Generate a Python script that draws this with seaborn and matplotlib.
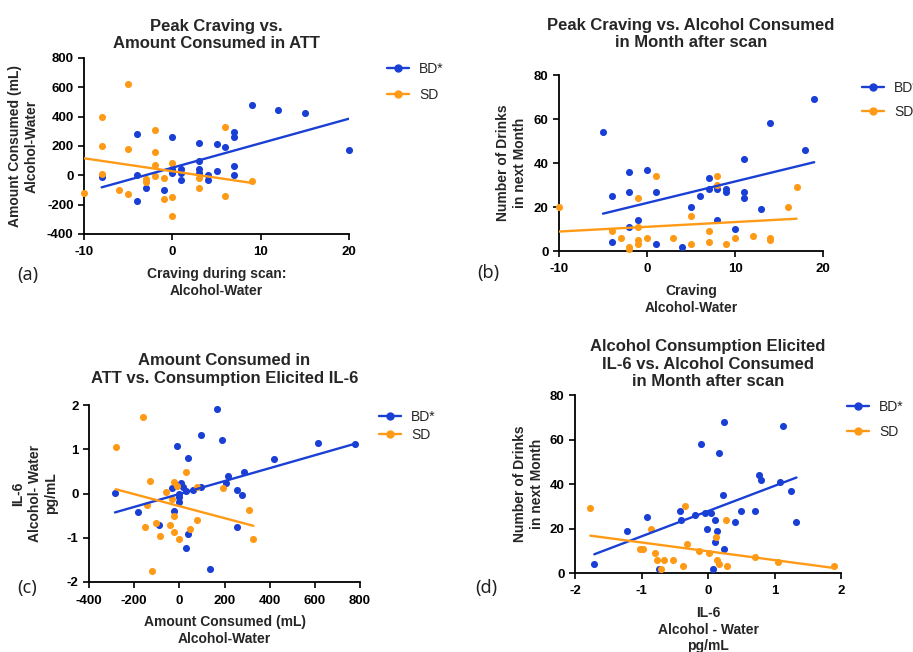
import matplotlib
matplotlib.use("Agg")
import matplotlib.pyplot as plt
import seaborn as sns
from matplotlib.lines import Line2D

# ---------------- data ----------------
# (a) Peak craving vs amount consumed in ATT
a_bd_x = [-8, -4, -4, -4, -3, -1, 0, 0, 0, 0, 1, 1, 1, 3, 3, 3, 3, 4, 4, 5, 5, 6, 7, 7, 7, 7, 9, 12, 15, 20]
a_bd_y = [-10, 280, 0, -178, -89, -100, 264, 43, 25, 16, 43, 16, -30, 222, 98, 43, 16, 2, -30, 214, 32, 193, 293, 264, 61, 2, 482, 443, 423, 173]
a_sd_x = [-10, -8, -8, -8, -6, -5, -5, -5, -3, -3, -2, -2, -2, -2, -1, -1, 0, 0, 0, 3, 3, 6, 6, 9]
a_sd_y = [-118, 398, 198, 7, -100, 625, 182, -127, -25, -48, 311, 161, 73, -7, -18, -159, 82, -150, -280, -18, -84, 332, -139, -39]

# (b) Peak craving vs alcohol consumed in month after scan
b_bd_x = [-5, -4, -4, -2, -2, -2, -1, 0, 1, 1, 4, 5, 6, 7, 7, 8, 8, 9, 9, 10, 11, 11, 11, 13, 14, 18, 19]
b_bd_y = [54, 25, 4, 36, 27, 11, 14, 37, 27, 3, 2, 20, 25, 33, 28, 28, 14, 28, 27, 10, 42, 27, 24, 19, 58, 46, 69]
b_sd_x = [-10, -4, -3, -2, -2, -1, -1, -1, -1, 0, 1, 3, 5, 5, 7, 7, 8, 8, 9, 10, 12, 14, 14, 16, 17]
b_sd_y = [20, 9, 6, 2, 1, 24, 11, 5, 3, 6, 34, 6, 16, 3, 9, 4, 34, 30, 3, 6, 7, 6, 5, 20, 29]

# (c) Amount consumed in ATT vs consumption elicited IL-6
c_bd_x = [-285, -182, -92, -31, -22, -12, -3, -3, -3, 7, 18, 28, 28, 37, 37, 59, 97, 97, 136, 168, 187, 207, 217, 257, 257, 277, 288, 419, 615, 779]
c_bd_y = [0.02, -0.41, -0.71, 0.12, -0.40, 1.08, 0.0, -0.09, -0.19, 0.23, 0.14, 0.05, -1.24, 0.80, -0.92, 0.07, 1.33, 0.14, -1.71, 1.91, 1.22, 0.23, 0.39, 0.08, -0.75, -0.03, 0.49, 0.77, 1.15, 1.12]
c_sd_x = [-282, -161, -142, -152, -131, -102, -87, -121, -60, -41, -31, -22, -22, -22, -12, -1, 28, 47, 78, 78, 193, 308, 328]
c_sd_y = [1.06, 1.74, -0.26, -0.76, 0.28, -0.66, -0.97, -1.76, 0.03, -0.71, -0.13, 0.27, -0.51, -0.86, 0.18, -1.02, 0.49, -0.80, 0.15, -0.60, 0.12, -0.37, -1.03]

# (d) Consumption elicited IL-6 vs alcohol consumed in month after scan
d_bd_x = [-1.71, -1.22, -0.91, -0.42, -0.41, -0.19, -0.11, -0.04, -0.01, 0.05, 0.07, 0.10, 0.11, 0.14, 0.16, 0.23, 0.24, 0.24, 0.40, 0.49, 0.71, 0.77, 0.80, 1.09, 1.13, 1.25, 1.33, -0.74]
d_bd_y = [4, 19, 25, 28, 24, 26, 58, 27, 20, 27, 2, 24, 14, 19, 54, 35, 68, 11, 23, 28, 28, 44, 42, 41, 66, 37, 23, 2]
d_sd_x = [-1.77, -1.03, -0.97, -0.86, -0.79, -0.76, -0.71, -0.66, -0.53, -0.37, -0.34, -0.31, -0.13, 0.02, 0.12, 0.14, 0.17, 0.27, 0.28, 0.70, 1.06, 1.90]
d_sd_y = [29, 11, 11, 20, 9, 6, 2, 6, 6, 3, 30, 13, 10, 9, 16, 6, 4, 24, 3, 7, 5, 3]

group_labels = ["BD*", "SD"]

a_xticks = [-10, 0, 10, 20]
a_yticks = [-400, -200, 0, 200, 400, 600, 800]
b_xticks = [-10, 0, 10, 20]
b_yticks = [0, 20, 40, 60, 80]
c_xticks = [-400, -200, 0, 200, 400, 600, 800]
c_yticks = [-2, -1, 0, 1, 2]
d_xticks = [-2, -1, 0, 1, 2]
d_yticks = [0, 20, 40, 60, 80]

# ---------------- style ----------------
sns.set_style("ticks")
plt.rcParams['font.family'] = ['Liberation Sans', 'DejaVu Sans']
plt.rcParams['axes.unicode_minus'] = False

BLUE = '#1a3fd4'
ORANGE = '#ff9a16'
W, H = 913, 652

fig = plt.figure(figsize=(W / 100, H / 100), dpi=100)


def rect(x0, y0, x1, y1):
    return [x0 / W, 1 - y1 / H, (x1 - x0) / W, (y1 - y0) / H]


def panel(r, bx, by, sx, sy, xticks, yticks, title, tpad, xlabel, xpad, ylabel, ypad,
          leg_xy, leg_spacing):
    ax = fig.add_axes(r)
    for x, y, c in ((bx, by, BLUE), (sx, sy, ORANGE)):
        sns.regplot(x=x, y=y, ax=ax, ci=None, color=c, truncate=True,
                    scatter_kws=dict(s=26, linewidths=0, alpha=1, clip_on=False, zorder=3),
                    line_kws=dict(lw=1.7, zorder=4))
    ax.set_xlim(xticks[0], xticks[-1])
    ax.set_ylim(yticks[0], yticks[-1])
    ax.set_xticks(xticks)
    ax.set_yticks(yticks)
    ax.set_xticklabels([str(v) for v in xticks], fontweight='bold')
    ax.set_yticklabels([str(v) for v in yticks], fontweight='bold')
    ax.tick_params(axis='both', direction='out', length=4, width=1.2, labelsize=9.5,
                   color='black', labelcolor='black')
    ax.tick_params(axis='x', pad=5)
    ax.tick_params(axis='y', pad=3.5)
    for s in ('left', 'bottom'):
        ax.spines[s].set_linewidth(1.3)
        ax.spines[s].set_color('black')
    sns.despine(ax=ax)
    ax.set_title(title, fontsize=12, fontweight='bold', pad=tpad, linespacing=1.2)
    ax.set_xlabel(xlabel, fontsize=10, fontweight='bold', labelpad=xpad, linespacing=1.25)
    ax.set_ylabel(ylabel, fontsize=10, fontweight='bold', labelpad=ypad, linespacing=1.25)
    handles = [Line2D([], [], color=c, lw=1.7, marker='o', markersize=5)
               for c in (BLUE, ORANGE)]
    ax.legend(handles, group_labels, loc='upper left', bbox_to_anchor=leg_xy,
              frameon=False, borderpad=0, borderaxespad=0, handlelength=1.6,
              handletextpad=0.7, labelspacing=leg_spacing,
              prop=dict(size=10, weight='normal'))
    return ax


panel(rect(84, 58, 349, 234), a_bd_x, a_bd_y, a_sd_x, a_sd_y, a_xticks, a_yticks,
      "Peak Craving vs.\nAmount Consumed in ATT", 7,
      "Craving during scan:\nAlcohol-Water", 6,
      "Amount Consumed (mL)\nAlcohol-Water", 6, (1.143, 0.977), 0.86)

panel(rect(559, 75, 823, 251), b_bd_x, b_bd_y, b_sd_x, b_sd_y, b_xticks, b_yticks,
      "Peak Craving vs. Alcohol Consumed\nin Month after scan", 20,
      "Craving\nAlcohol-Water", 6,
      "Number of Drinks\nin next Month", 5, (1.148, 0.966), 0.72)

panel(rect(89, 405, 360, 582), c_bd_x, c_bd_y, c_sd_x, c_sd_y, c_xticks, c_yticks,
      "Amount Consumed in\nATT vs. Consumption Elicited IL-6", 16,
      "Amount Consumed (mL)\nAlcohol-Water", 6,
      "IL-6\nAlcohol- Water\npg/mL", 6, (1.07, 0.972), 0.3)

panel(rect(575, 395, 841, 573), d_bd_x, d_bd_y, d_sd_x, d_sd_y, d_xticks, d_yticks,
      "Alcohol Consumption Elicited\nIL-6 vs. Alcohol Consumed\nin Month after scan", 6.5,
      "IL-6\nAlcohol - Water\npg/mL", 6,
      "Number of Drinks\nin next Month", 4, (1.023, 0.972), 0.8)

for lab, x, y in (("(a)", 28, 275), ("(b)", 488, 273), ("(c)", 27, 588), ("(d)", 486, 588)):
    fig.text(x / W, 1 - y / H, lab, ha='center', va='center', fontsize=13,
             family=['Noto Sans', 'DejaVu Sans'], color='#222222')

fig.savefig("out.png", dpi=100)
